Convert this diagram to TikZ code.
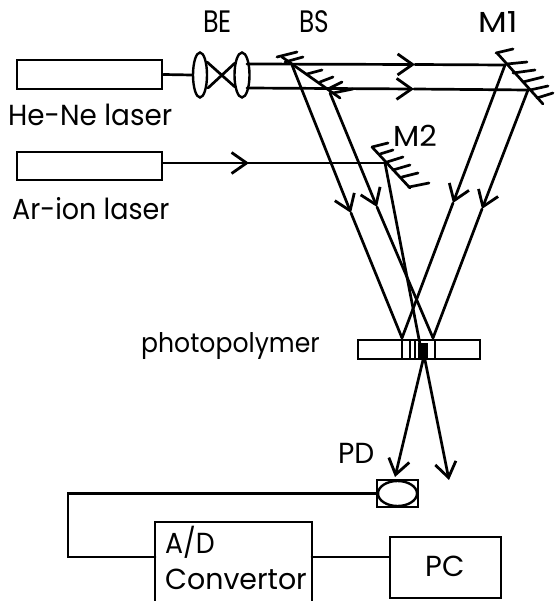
\documentclass[tikz,border=0pt]{standalone}
\usepackage{fontspec}
\usepackage{graphicx}
\setmainfont{Poppins}
\usetikzlibrary{arrows.meta,shapes.geometric}
\tikzset{
  ln/.style={line width=2.7pt,line cap=round,line join=miter},
  box/.style={draw,line width=2.7pt,rectangle,inner sep=0pt},
  lens/.style={draw,line width=2.4pt,ellipse,inner sep=0pt,minimum width=#1,minimum height=45pt},
  lab/.style={inner sep=0pt,anchor=base west,font=\fontsize{#1}{#1}\selectfont},
  lab/.default=29pt,
  chev/.style={-{Straight Barb[length=15pt,width=21pt,line width=2.8pt]}},
}
\newcommand{\sx}[2]{\scalebox{#1}[1]{#2}}
\newcommand{\mirror}[3]{% line start, line end, list of ticks
  \draw[ln] #1 -- #2;
  \foreach \ax/\ay/\bx/\by in {#3} \draw[ln] (\ax,\ay) -- (\bx,\by);
}
\begin{document}
\begin{tikzpicture}[x=1pt,y=-1pt]
\useasboundingbox (0,0) rectangle (555,601);
% lasers
\node[box,minimum width=145pt,minimum height=29pt] (hene) at (89.5,74.5) {};
\node[box,minimum width=145pt,minimum height=28pt] (ar) at (89.5,166) {};
% labels
\node[lab] (t1) at (8,126) {\sx{.96}{He-Ne laser}};
\node[lab] (t2) at (12,220) {\sx{.93}{Ar-ion laser}};
\node[lab=31pt] (tbe) at (203,33) {\sx{.82}{BE}};
\node[lab=31pt] (tbs) at (299,33) {\sx{.80}{BS}};
\node[lab] (tm1) at (478,33) {\sx{1.15}{M1}};
\node[lab] (tm2) at (393,147) {\sx{1.05}{M2}};
\node[lab=27pt] (tpp) at (141,352) {\sx{.93}{photopolymer}};
\node[lab] (tpd) at (338,463) {\sx{.97}{PD}};
\node[lab] (tad) at (165,553) {\sx{.92}{A/D}};
\node[lab] (tcv) at (165,589) {\sx{.98}{Convertor}};
\node[lab] (tpc) at (425,576) {PC};
% beam expander
\node[lens=14pt] (l1) at (200,75) {};
\node[lens=15pt] (l2) at (242,75) {};
\draw[ln] (hene.east) -- (l1.west);
\draw[ln] (207,62) -- (235,87);
\draw[ln] (208,88) -- (235,63);
% key points
\coordinate (bsa) at (292,65);
\coordinate (bsb) at (330,93);
\coordinate (ma) at (505,65);
\coordinate (mb) at (528,90);
\coordinate (mc) at (385,163);
\coordinate (fa) at (402,338);
\coordinate (fb) at (433,338);
\coordinate (ea) at (423,360);
\coordinate (eb) at (425,360);
% horizontal beams
\coordinate (ta) at (415,64.5);
\coordinate (tb) at (414,89);
\coordinate (tc) at (249,163);
\coordinate (sa) at (247,64);
\coordinate (sb) at (247,88);
\draw[ln,chev] (sa) -- (ta);
\draw[ln] (ta) -- (ma);
\draw[ln,chev] (sb) -- (tb);
\draw[ln] (tb) -- (mb);
\draw[ln] (ar.east |- tc) -- (mc);
\draw[ln,chev] (ar.east |- tc) -- (tc);
% slanted beams
\coordinate (t1a) at (351,213);
\coordinate (t1b) at (377,207);
\coordinate (t2a) at (453,203);
\coordinate (t2b) at (482,209);
\draw[ln,chev] (bsa) -- (t1a); \draw[ln] (t1a) -- (fa);
\draw[ln,chev] (bsb) -- (t1b); \draw[ln] (t1b) -- (fb);
\draw[ln,chev] (ma) -- (t2a);  \draw[ln] (t2a) -- (fa);
\draw[ln,chev] (mb) -- (t2b);  \draw[ln] (t2b) -- (fb);
\draw[ln] (mc) -- (ea);
% mirrors
\mirror{(282,57)}{(340,98)}{277/57/297/52, 285/62/303/57, 307/74/322/70, 320/82/333/77, 330/88/342/82, 333/93/353/89}
\mirror{(497,53)}{(543,104)}{496/53/513/49, 507/64/527/62, 513/73/535/70, 523/82/543/77, 530/90/548/86, 537/98/553/93}
\mirror{(372,147)}{(410,188)}{372/147/388/143, 380/154/393/150, 387/162/403/157, 393/170/410/165, 402/177/418/173, 409/187/429/183}
% photopolymer
\node[box,minimum width=122pt,minimum height=19pt] (pp) at (419,349.5) {};
\foreach \x in {402,410,415,435} \draw[ln,line cap=butt] (\x,340) -- (\x,359);
\fill (418,343) rectangle (428,360);
% exit beams
\coordinate (xa) at (395,477);
\coordinate (xb) at (449,480);
\draw[ln,chev] (ea) -- (xa);
\draw[ln,chev] (eb) -- (xb);
% detector
\node[box,line width=2.9pt,minimum width=41pt,minimum height=27pt] (pd) at (397.5,493.5) {};
\node[draw,line width=2.4pt,ellipse,inner sep=0pt,minimum width=39pt,minimum height=25pt] at (pd.center) {};
% A/D
\coordinate (adl) at (155,557);
\coordinate (adr) at (312,557);
\draw[ln,line cap=butt] (155,601) -- (155,522) -- (312,522) -- (312,601);
\node[box,minimum width=111pt,minimum height=61pt] (pc) at (445.5,567.5) {};
\draw[ln] (pd.west) -- (68,493.5) -- (68,557) -- (adl);
\draw[ln] (adr) -- (pc.west |- adr);
\end{tikzpicture}
\end{document}
